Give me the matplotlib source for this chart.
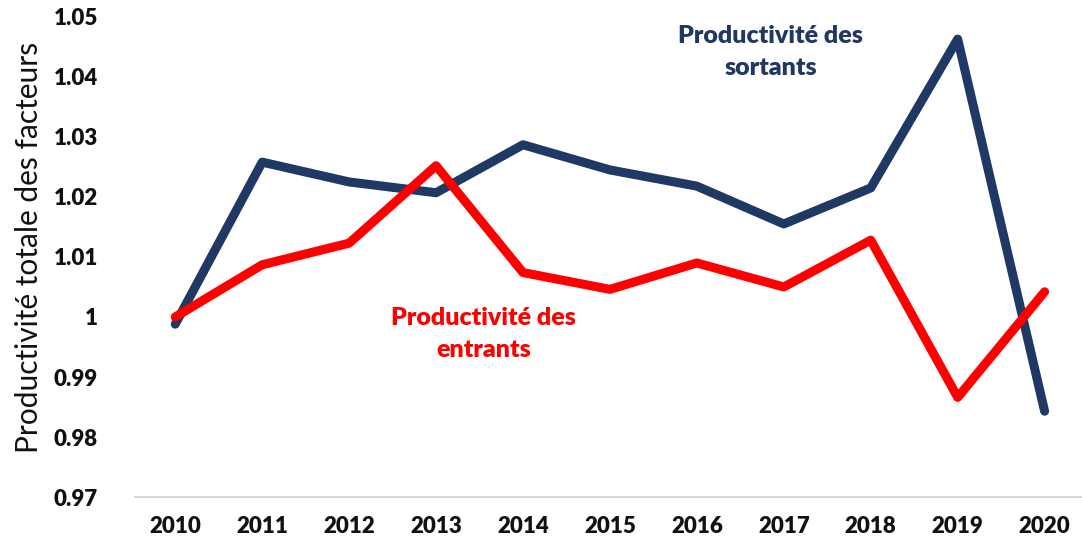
import matplotlib
matplotlib.use('Agg')
import matplotlib.pyplot as plt

# données
years = [2010, 2011, 2012, 2013, 2014, 2015, 2016, 2017, 2018, 2019, 2020]
sortants = [0.9988, 1.0258, 1.0225, 1.0207, 1.0287, 1.0245, 1.0218, 1.0155, 1.0215, 1.0463, 0.9843]
entrants = [1.0000, 1.0087, 1.0123, 1.0252, 1.0074, 1.0046, 1.0090, 1.0050, 1.0128, 0.9866, 1.0042]
yticks = [0.97, 0.98, 0.99, 1.00, 1.01, 1.02, 1.03, 1.04, 1.05]
ytick_labels = ['0.97', '0.98', '0.99', '1', '1.01', '1.02', '1.03', '1.04', '1.05']

navy = '#203864'
red = '#ff0000'

plt.rcParams['font.family'] = ['Lato', 'DejaVu Sans']

fig = plt.figure(figsize=(10.82, 5.45), dpi=100)
ax = fig.add_axes([0.125, 0.088, 0.875, 0.881])

ax.plot(years, sortants, color=navy, linewidth=6.5, solid_joinstyle='round', solid_capstyle='round')
ax.plot(years, entrants, color=red, linewidth=6.5, solid_joinstyle='round', solid_capstyle='round')

ax.set_xlim(2009.54, 2020.43)
ax.set_ylim(0.97, 1.05)
ax.set_xticks(years)
ax.set_xticklabels([str(y) for y in years], fontsize=16, fontweight='heavy', color='#111111')
ax.set_yticks(yticks)
ax.set_yticklabels(ytick_labels, fontsize=16, fontweight='heavy', color='#111111')
ax.tick_params(axis='both', length=0)
ax.tick_params(axis='y', pad=27)
ax.tick_params(axis='x', pad=14)

for s in ['top', 'right', 'left']:
    ax.spines[s].set_visible(False)
ax.spines['bottom'].set_color('#d9d9d9')
ax.spines['bottom'].set_linewidth(1.5)

ax.set_ylabel('Productivité totale des facteurs', fontsize=21.5, color='#111111')
ax.yaxis.set_label_coords(-0.097, 0.52)

ax.text(2016.85, 1.0441, 'Productivité des\nsortants', color=navy, fontsize=18,
        fontweight='heavy', ha='center', va='center', linespacing=1.55)
ax.text(2013.55, 0.9972, 'Productivité des\nentrants', color=red, fontsize=18,
        fontweight='heavy', ha='center', va='center', linespacing=1.55)

fig.savefig('out.png', dpi=100)
